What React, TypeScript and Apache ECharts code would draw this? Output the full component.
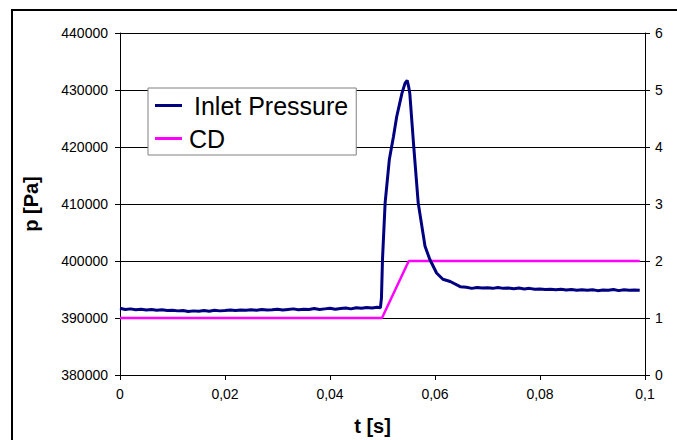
import React, { useEffect, useRef } from "react";
import * as echarts from "echarts";

// time [s] of the inlet pressure samples
const pressureTime: number[] = [
  0, 0.001, 0.002, 0.003, 0.004, 0.005, 0.006, 0.007, 0.008, 0.009,
  0.01, 0.011, 0.012, 0.013, 0.014, 0.015, 0.016, 0.017, 0.018, 0.019,
  0.02, 0.021, 0.022, 0.023, 0.024, 0.025, 0.026, 0.027, 0.028, 0.029,
  0.03, 0.031, 0.032, 0.033, 0.034, 0.035, 0.036, 0.037, 0.038, 0.039,
  0.04, 0.041, 0.042, 0.043, 0.044, 0.045, 0.046, 0.047, 0.048, 0.049,
  0.0496, 0.0498, 0.05, 0.0505, 0.0513, 0.0521, 0.0527, 0.0537, 0.0543, 0.0547,
  0.055, 0.0552, 0.0559, 0.0568, 0.0581, 0.059, 0.0603, 0.0615, 0.0629, 0.0648,
  0.066, 0.067, 0.068, 0.069, 0.07, 0.071, 0.072, 0.073, 0.074, 0.075,
  0.076, 0.077, 0.078, 0.079, 0.08, 0.081, 0.082, 0.083, 0.084, 0.085,
  0.086, 0.087, 0.088, 0.089, 0.09, 0.091, 0.092, 0.093, 0.094, 0.095,
  0.096, 0.097, 0.098, 0.099,
];

// inlet pressure [Pa]
const inletPressure: number[] = [
  391700, 391500, 391600, 391450, 391550, 391400, 391500, 391350, 391450, 391300,
  391350, 391250, 391300, 391150, 391250, 391200, 391300, 391200, 391350, 391250,
  391300, 391400, 391300, 391400, 391350, 391450, 391350, 391500, 391400, 391450,
  391550, 391400, 391500, 391600, 391450, 391550, 391500, 391650, 391500, 391600,
  391700, 391550, 391650, 391750, 391600, 391800, 391700, 391850, 391750, 391900,
  391800, 393500, 400300, 410200, 417800, 421900, 425300, 429400, 431200, 431700,
  430500, 429400, 420700, 410200, 402600, 400300, 397900, 396800, 396400, 395500,
  395400, 395200, 395350, 395250, 395300, 395200, 395350, 395200, 395250, 395150,
  395250, 395100, 395200, 395050, 395100, 395000, 395050, 394950, 395050, 394900,
  395000, 394850, 394950, 394850, 394950, 394800, 394900, 394850, 395000, 394800,
  394950, 394850, 394900, 394850,
];

// CD signal
const cdTime: number[] = [0, 0.0499, 0.055, 0.099];
const cdValues: number[] = [1, 1, 2, 2];

const seriesNames: string[] = ["Inlet Pressure", "CD"];
const axisTitles = { x: "t [s]", y: "p [Pa]" };

const FONT = "Arial, 'Liberation Sans', sans-serif";

export default function App() {
  const ref = useRef<HTMLDivElement>(null);

  useEffect(() => {
    if (!ref.current) return;
    const chart = echarts.init(ref.current, undefined, { renderer: "svg" });
    const pData = pressureTime.map((t, i) => [t, inletPressure[i]]);
    const cData = cdTime.map((t, i) => [t, cdValues[i]]);

    chart.setOption({
      animation: false,
      backgroundColor: "#ffffff",
      textStyle: { fontFamily: FONT },
      grid: {
        left: 120,
        top: 33,
        right: 32,
        bottom: 65,
        containLabel: false,
        outerBoundsMode: "none",
      },
      graphic: [
        {
          type: "rect",
          shape: { x: 12, y: 10, width: 700, height: 500 },
          style: { fill: "none", stroke: "#000", lineWidth: 2 },
          silent: true,
        },
      ],
      legend: {
        orient: "vertical",
        left: 148,
        top: 88,
        padding: [5, 8, 4, 7],
        itemGap: 8,
        itemWidth: 27,
        itemHeight: 3,
        icon: "rect",
        backgroundColor: "#fff",
        borderColor: "#808080",
        borderWidth: 1,
        borderRadius: 0,
        data: seriesNames,
        formatter: (name: string) =>
          name === seriesNames[0] ? `{a|${name}}` : `{b|${name}}`,
        textStyle: {
          fontFamily: FONT,
          fontSize: 25,
          color: "#000",
          lineHeight: 24,
          rich: {
            a: { fontSize: 25, lineHeight: 24, padding: [0, 0, 0, 7], fontFamily: FONT, color: "#000" },
            b: { fontSize: 25, lineHeight: 24, padding: [0, 0, 0, 2], fontFamily: FONT, color: "#000" },
          },
        },
      },
      xAxis: {
        type: "value",
        min: 0,
        max: 0.1,
        interval: 0.02,
        name: axisTitles.x,
        nameLocation: "middle",
        nameGap: 41,
        nameTextStyle: {
          fontFamily: FONT,
          fontSize: 20,
          fontWeight: "bold",
          color: "#000",
          padding: [0, 20, 0, 0],
        },
        axisLine: { show: true, onZero: false, lineStyle: { color: "#000", width: 1 } },
        axisTick: { show: true, inside: false, length: 5, lineStyle: { color: "#000" } },
        splitLine: { show: false },
        axisLabel: {
          fontFamily: FONT,
          fontSize: 14,
          color: "#000",
          margin: 12,
          formatter: (v: number) => String(Math.round(v * 100) / 100).replace(".", ","),
        },
      },
      yAxis: [
        {
          type: "value",
          min: 380000,
          max: 440000,
          interval: 10000,
          position: "left",
          name: axisTitles.y,
          nameLocation: "middle",
          nameRotate: 90,
          nameGap: 79,
          nameTextStyle: { fontFamily: FONT, fontSize: 20, fontWeight: "bold", color: "#000" },
          axisLine: { show: true, onZero: false, lineStyle: { color: "#000", width: 1 } },
          axisTick: { show: true, inside: false, length: 5, lineStyle: { color: "#000" } },
          splitLine: { show: true, lineStyle: { color: "#000", width: 1 } },
          axisLabel: {
            fontFamily: FONT,
            fontSize: 14,
            color: "#000",
            margin: 12,
            formatter: (v: number) => String(v),
          },
        },
        {
          type: "value",
          min: 0,
          max: 6,
          interval: 1,
          position: "right",
          axisLine: { show: true, onZero: false, lineStyle: { color: "#000", width: 1 } },
          axisTick: { show: true, inside: false, length: 5, lineStyle: { color: "#000" } },
          splitLine: { show: false },
          axisLabel: { fontFamily: FONT, fontSize: 14, color: "#000", margin: 10 },
        },
      ],
      series: [
        {
          name: seriesNames[0],
          type: "line",
          xAxisIndex: 0,
          yAxisIndex: 0,
          data: pData,
          showSymbol: false,
          symbol: "none",
          color: "#000080",
          lineStyle: { color: "#000080", width: 3 },
          z: 3,
        },
        {
          name: seriesNames[1],
          type: "line",
          xAxisIndex: 0,
          yAxisIndex: 1,
          data: cData,
          showSymbol: false,
          symbol: "none",
          color: "#ff00ff",
          lineStyle: { color: "#ff00ff", width: 2.5 },
          z: 2,
        },
      ],
    });

    return () => chart.dispose();
  }, []);

  return (
    <div
      ref={ref}
      style={{ position: "fixed", left: 0, top: 0, width: 677, height: 440 }}
    />
  );
}
